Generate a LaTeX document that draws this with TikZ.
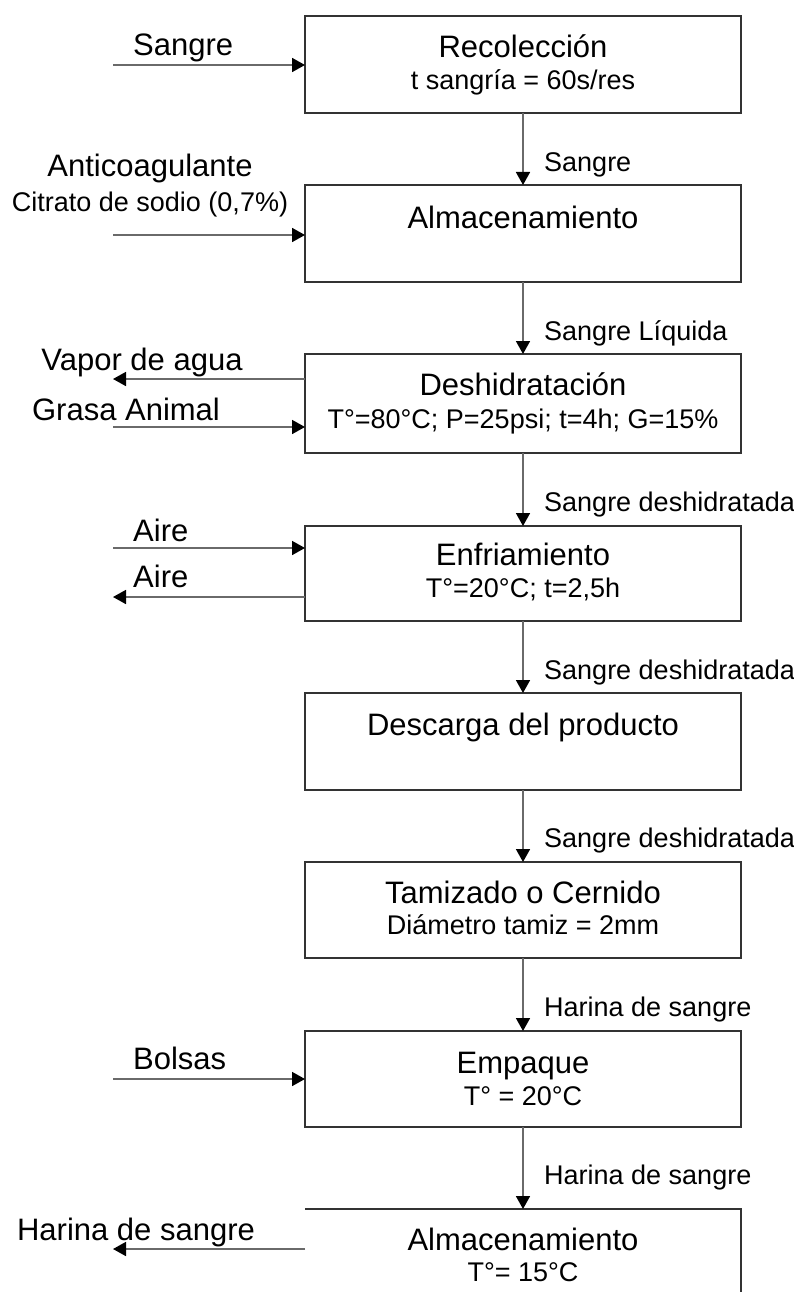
\documentclass[tikz,border=0pt]{standalone}
\usepackage{fontspec}
\setmainfont{Liberation Sans}
\usetikzlibrary{arrows.meta}
\definecolor{boxc}{HTML}{333333}
\definecolor{linec}{HTML}{6A6A6A}
\begin{document}
\begin{tikzpicture}[x=1pt,y=-1pt,
  procbox/.style={draw=boxc, line width=2.2pt, minimum width=436pt, minimum height=97pt, inner sep=0pt, outer sep=0pt, anchor=north west},
  maintxt/.style={font=\fontsize{31}{36}\selectfont, text height=22pt, text depth=0pt, inner sep=0pt},
  subtxt/.style={font=\fontsize{27}{32}\selectfont, text height=19pt, text depth=0pt, inner sep=0pt},
  flow/.style={draw=linec, line width=1.7pt, -{Triangle[length=13pt,width=14pt,color=black]}},
  flowlab/.style={subtxt, anchor=west}
]
\useasboundingbox (0,0) rectangle (794,1292);
\fill[white] (0,0) rectangle (794,1292);

% boxes
\node[procbox] (b1) at (305,16) {};
\node[procbox] (b2) at (305,185) {};
\node[procbox, minimum height=99pt] (b3) at (305,354) {};
\node[procbox, minimum height=95pt] (b4) at (305,526) {};
\node[procbox] (b5) at (305,693) {};
\node[procbox, minimum height=96pt] (b6) at (305,862) {};
\node[procbox, minimum height=96pt] (b7) at (305,1031) {};
\coordinate (b8l) at (305,1209);
\coordinate (b8t) at (523,1209);
\coordinate (b8r) at (741,1209);
\coordinate (b8b) at (741,1292);
\draw[boxc, line width=2.2pt] (b8l) -- (b8r) -- (b8b);

% box texts
\node[maintxt] (t1a) at (523,47) {Recolección};
\node[subtxt] (t1b) at (523,80) {t sangría = 60s/res};
\node[maintxt] (t2a) at (523,217) {Almacenamiento};
\node[maintxt] (t3a) at (523,384) {Deshidratación};
\node[subtxt] (t3b) at (523,419) {T°=80°C; P=25psi; t=4h; G=15\%};
\node[maintxt] (t4a) at (523,554) {Enfriamiento};
\node[subtxt] (t4b) at (523,588) {T°=20°C; t=2,5h};
\node[maintxt] (t5a) at (523,724) {Descarga del producto};
\node[maintxt] (t6a) at (523,892) {Tamizado o Cernido};
\node[subtxt] (t6b) at (523,925) {Diámetro tamiz = 2mm};
\node[maintxt] (t7a) at (523,1062) {Empaque};
\node[subtxt] (t7b) at (523,1096) {T° = 20°C};
\node[maintxt] (t8a) at (523,1239) {Almacenamiento};
\node[subtxt] (t8b) at (523,1272) {T°= 15°C};

% main flow
\draw[flow] (b1.south) -- (b2.north);
\draw[flow] (b2.south) -- (b3.north);
\draw[flow] (b3.south) -- (b4.north);
\draw[flow] (b4.south) -- (b5.north);
\draw[flow] (b5.south) -- (b6.north);
\draw[flow] (b6.south) -- (b7.north);
\draw[flow] (b7.south) -- (b8t);

\node[flowlab] (f1) at (544,162) {Sangre};
\node[flowlab] (f2) at (544,331) {Sangre Líquida};
\node[flowlab] (f3) at (544,502) {Sangre deshidratada};
\node[flowlab] (f4) at (544,670) {Sangre deshidratada};
\node[flowlab] (f5) at (544,838) {Sangre deshidratada};
\node[flowlab] (f6) at (544,1007) {Harina de sangre};
\node[flowlab] (f7) at (544,1175) {Harina de sangre};

% side streams
\coordinate (s1) at (113,65);
\draw[flow] (s1) -- (s1 -| b1.west);
\node[maintxt, anchor=west] (l1) at (133,45) {Sangre};

\coordinate (s2) at (113,235);
\draw[flow] (s2) -- (s2 -| b2.west);
\node[maintxt] (l2a) at (150,166) {Anticoagulante};
\node[subtxt] (l2b) at (150,202) {Citrato de sodio (0,7\%)};

\coordinate (s3) at (113,379);
\draw[flow] (s3 -| b3.west) -- (s3);
\node[maintxt] (l3) at (142,359) {Vapor de agua};

\coordinate (s4) at (113,427);
\draw[flow] (s4) -- (s4 -| b3.west);
\node[maintxt] (l4) at (126,409) {Grasa Animal};

\coordinate (s5) at (113,548);
\draw[flow] (s5) -- (s5 -| b4.west);
\node[maintxt, anchor=west] (l5) at (133,530) {Aire};

\coordinate (s6) at (113,597);
\draw[flow] (s6 -| b4.west) -- (s6);
\node[maintxt, anchor=west] (l6) at (133,576) {Aire};

\coordinate (s7) at (113,1079);
\draw[flow] (s7) -- (s7 -| b7.west);
\node[maintxt, anchor=west] (l7) at (133,1058) {Bolsas};

\coordinate (s8) at (113,1249);
\draw[flow] (s8 -| b8l) -- (s8);
\node[maintxt] (l8) at (136,1229) {Harina de sangre};
\end{tikzpicture}
\end{document}
